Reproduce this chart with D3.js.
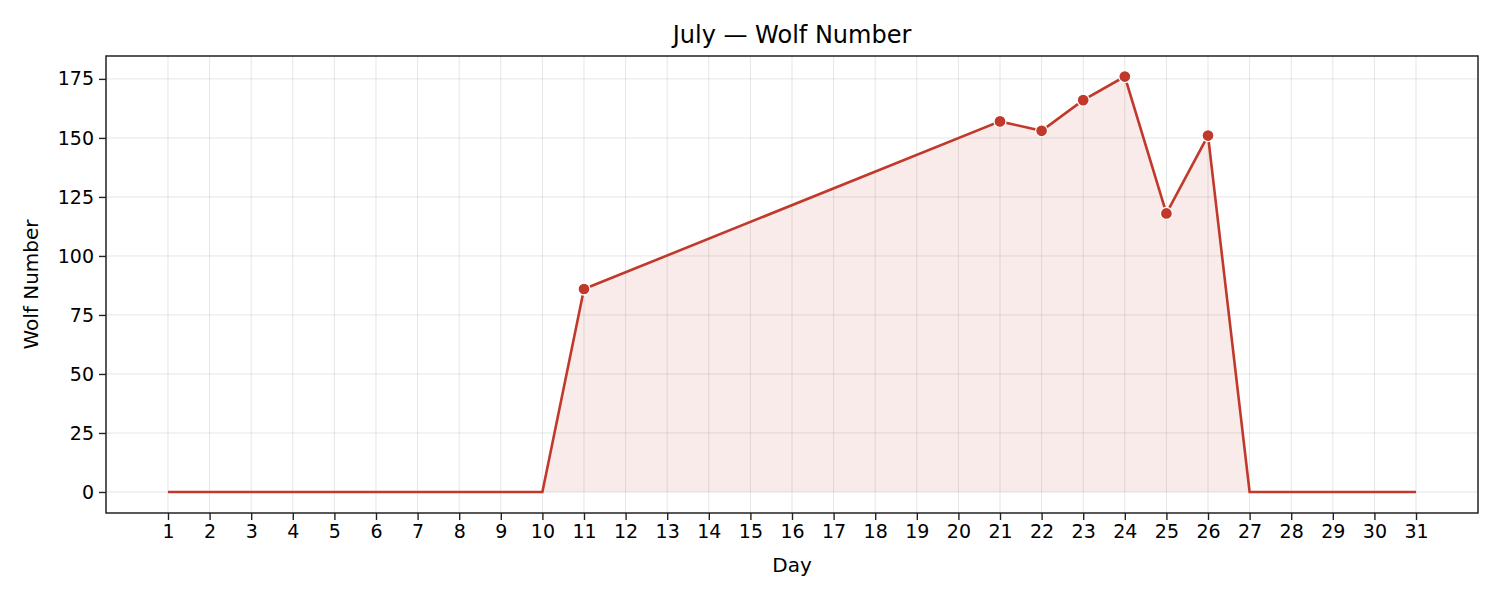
<!DOCTYPE html>
<html>
<head>
<meta charset="utf-8">
<script src="https://cdn.jsdelivr.net/npm/d3@7/dist/d3.min.js"></script>
<style>
  body { margin: 0; background: #fff; }
  text { font-family: 'DejaVu Sans', sans-serif; }
</style>
</head>
<body>
<div id="plot"></div>
<script>
'use strict';

const days = d3.range(1, 32)
// null = no observation (line jumps over those days)
const wolf = [0, 0, 0, 0, 0, 0, 0, 0, 0, 0,
  86, null, null, null, null, null, null, null, null, null,
  157, 153, 166, 176, 118, 151,
  0, 0, 0, 0, 0]
const marked = [11, 21, 22, 23, 24, 25, 26]
const yTicks = [0, 25, 50, 75, 100, 125, 150, 175]

const col = '#c0392b'
const width = 1500, height = 600
const margin = {left: 106, right: 22, top: 56, bottom: 87}

let data = days.map((d, i) => ({day: d, value: wolf[i]})).filter(d => d.value !== null)

let svg = d3.select('#plot').append('svg')
  .attr('width', width)
  .attr('height', height)

let x = d3.scaleLinear()
  .domain([-0.49, 32.49])
  .range([margin.left, width - margin.right])
let y = d3.scaleLinear()
  .domain([-8.9, 184.7])
  .range([height - margin.bottom, margin.top])

// grid
svg.append('g')
  .selectAll('line')
  .data(days)
  .enter()
  .append('line')
  .attr('x1', d => x(d)).attr('x2', d => x(d))
  .attr('y1', margin.top).attr('y2', height - margin.bottom)
  .attr('stroke', '#000').attr('stroke-opacity', 0.1)
svg.append('g')
  .selectAll('line')
  .data(yTicks)
  .enter()
  .append('line')
  .attr('x1', margin.left).attr('x2', width - margin.right)
  .attr('y1', d => y(d)).attr('y2', d => y(d))
  .attr('stroke', '#000').attr('stroke-opacity', 0.1)

let area = d3.area()
  .x(d => x(d.day))
  .y0(y(0))
  .y1(d => y(d.value))
svg.append('path')
  .attr('d', area(data))
  .attr('fill', col)
  .attr('fill-opacity', 0.1)

let line = d3.line()
  .x(d => x(d.day))
  .y(d => y(d.value))
svg.append('path')
  .attr('d', line(data))
  .attr('fill', 'none')
  .attr('stroke', col)
  .attr('stroke-width', 2.6)

svg.append('g')
  .selectAll('circle')
  .data(data.filter(d => marked.includes(d.day)))
  .enter()
  .append('circle')
  .attr('cx', d => x(d.day))
  .attr('cy', d => y(d.value))
  .attr('r', 6)
  .attr('fill', col)
  .attr('stroke', '#fff')
  .attr('stroke-width', 1.3)

let xAxis = d3.axisBottom(x).tickValues(days).tickFormat(d3.format('d')).tickSizeOuter(0).tickSize(7).tickPadding(5)
let yAxis = d3.axisLeft(y).tickValues(yTicks).tickSizeOuter(0).tickSize(7).tickPadding(5)
let gx = svg.append('g')
  .attr('transform', `translate(0, ${height - margin.bottom})`)
  .call(xAxis)
let gy = svg.append('g')
  .attr('transform', `translate(${margin.left}, 0)`)
  .call(yAxis)
for (let g of [gx, gy]) {
  g.select('.domain').remove()
  g.selectAll('text').attr('font-size', '19px').attr('fill', '#000')
  g.selectAll('line').attr('stroke', '#222').attr('stroke-width', 1.4)
}

svg.append('rect')
  .attr('x', margin.left).attr('y', margin.top)
  .attr('width', width - margin.left - margin.right)
  .attr('height', height - margin.top - margin.bottom)
  .attr('fill', 'none').attr('stroke', '#222').attr('stroke-width', 1.5)

svg.append('text')
  .attr('x', (margin.left + width - margin.right) / 2).attr('y', 43)
  .attr('text-anchor', 'middle').attr('font-size', '24px')
  .text('July — Wolf Number')
svg.append('text')
  .attr('x', (margin.left + width - margin.right) / 2).attr('y', 572)
  .attr('text-anchor', 'middle').attr('font-size', '20px')
  .text('Day')
svg.append('text')
  .attr('transform', `translate(38, ${(margin.top + height - margin.bottom) / 2}) rotate(-90)`)
  .attr('text-anchor', 'middle').attr('font-size', '20px')
  .text('Wolf Number')
</script>
</body>
</html>
